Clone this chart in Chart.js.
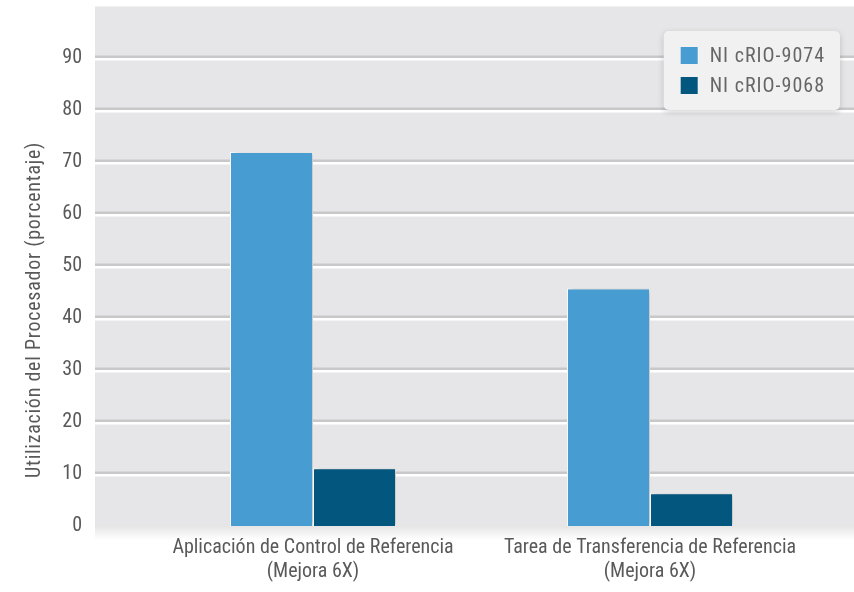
<!DOCTYPE html>
<html><head><meta charset="utf-8">
<script src="https://cdn.jsdelivr.net/npm/chart.js@4.4.0/dist/chart.umd.min.js"></script>
<style>html,body{margin:0;padding:0;background:#fff;overflow:hidden}</style>
</head><body>
<canvas id="c" width="854" height="592"></canvas>
<script>
const categories = [
  ["Aplicación de Control de Referencia", "(Mejora 6X)"],
  ["Tarea de Transferencia de Referencia", "(Mejora 6X)"]
];
const seriesNames = ["NI cRIO-9074", "NI cRIO-9068"];
const cRIO9074 = [72, 45.7];
const cRIO9068 = [11.1, 6.3];
const yTickValues = [0, 10, 20, 30, 40, 50, 60, 70, 80, 90, 100];
const yTitle = "Utilización del Procesador (porcentaje)";
const colors = ["#479dd1", "#03577f"];

const FONT = "'Roboto Condensed', 'DejaVu Sans Condensed', sans-serif";
const TEXT = "#595959";

const toPoints = arr => arr.map((v, i) => ({ x: i, y: v }));

const decor = {
  id: 'decor',
  beforeDraw(chart) {
    const { ctx, chartArea: a, scales } = chart;
    ctx.save();
    ctx.fillStyle = '#e6e6e8';
    ctx.fillRect(a.left, a.top, a.right - a.left, a.bottom - a.top);
    const g = ctx.createLinearGradient(0, a.bottom, 0, a.bottom + 14);
    g.addColorStop(0, 'rgba(0,0,0,0.10)');
    g.addColorStop(1, 'rgba(0,0,0,0)');
    ctx.fillStyle = g;
    ctx.fillRect(a.left, a.bottom, a.right - a.left, 14);
    const y = scales.y;
    y.ticks.forEach(t => {
      if (t.value <= y.min || t.value >= y.max) return;
      const p = Math.round(y.getPixelForValue(t.value));
      ctx.fillStyle = '#c8c8ca';
      ctx.fillRect(a.left, p - 2.5, a.right - a.left, 2.5);
      ctx.fillStyle = '#ffffff';
      ctx.fillRect(a.left, p, a.right - a.left, 2.5);
    });
    ctx.restore();
  },
  beforeDatasetsDraw(chart) {
    const ctx = chart.ctx;
    ctx.save();
    ctx.shadowColor = 'rgba(0,0,0,0.25)';
    ctx.shadowBlur = 6;
    ctx.shadowOffsetX = 3;
    ctx.shadowOffsetY = 0;
  },
  afterDatasetsDraw(chart) {
    chart.ctx.restore();
  },
  afterDraw(chart) {
    const { ctx, chartArea: a } = chart;
    ctx.save();
    ctx.font = `20px ${FONT}`;
    try { ctx.letterSpacing = '0.75px'; } catch (e) {}
    ctx.fillStyle = TEXT;
    ctx.translate(35, a.bottom - 48);
    ctx.rotate(-Math.PI / 2);
    ctx.textAlign = 'left';
    ctx.textBaseline = 'middle';
    ctx.fillText(yTitle, 0, 0);
    ctx.restore();

    ctx.save();
    ctx.font = `20px ${FONT}`;
    try { ctx.letterSpacing = '1px'; } catch (e) {}
    const ds = chart.data.datasets;
    const tw = Math.max(...ds.map(d => ctx.measureText(d.label).width));
    const padL = 17, sq = 17, gap = 12, padR = 15, rowH = 30, padT = 16;
    const w = padL + sq + gap + tw + padR;
    const h = padT * 2 + rowH * (ds.length - 1) + sq;
    const x0 = a.right - 14 - w, y0 = a.top + 24.5;
    ctx.save();
    ctx.shadowColor = 'rgba(0,0,0,0.18)';
    ctx.shadowBlur = 6;
    ctx.shadowOffsetY = 2;
    ctx.fillStyle = '#f1f1f2';
    ctx.beginPath();
    ctx.roundRect(x0, y0, w, h, 5);
    ctx.fill();
    ctx.restore();
    ds.forEach((d, i) => {
      const ry = y0 + padT + i * rowH;
      ctx.fillStyle = d.backgroundColor;
      ctx.fillRect(x0 + padL, ry, sq, sq);
      ctx.fillStyle = '#666666';
      ctx.textBaseline = 'middle';
      ctx.textAlign = 'left';
      ctx.fillText(d.label, x0 + padL + sq + gap, ry + sq / 2 + 1);
    });
    ctx.restore();
  }
};

new Chart(document.getElementById('c'), {
  type: 'bar',
  data: {
    datasets: [
      { label: seriesNames[0], data: toPoints(cRIO9074), backgroundColor: colors[0], borderColor: '#ffffff', borderWidth: 1 },
      { label: seriesNames[1], data: toPoints(cRIO9068), backgroundColor: colors[1], borderColor: '#ffffff', borderWidth: 1 }
    ]
  },
  options: {
    responsive: false,
    animation: false,
    layout: { padding: { top: 6.5, right: 0, left: 0, bottom: 0 } },
    datasets: { bar: { categoryPercentage: 0.4926, barPercentage: 1 } },
    plugins: { legend: { display: false }, tooltip: { enabled: false } },
    scales: {
      x: {
        type: 'linear',
        offset: false,
        min: -0.6469,
        max: 1.6053,
        grid: { display: false, drawTicks: false },
        border: { display: false },
        afterBuildTicks: s => { s.ticks = categories.map((c, i) => ({ value: i })); },
        afterFit: s => { s.height = 66; s.paddingLeft = 0; s.paddingRight = 0; },
        ticks: {
          autoSkip: false,
          maxRotation: 0,
          padding: 10,
          color: TEXT,
          font: { family: FONT, size: 20, lineHeight: 1.2 },
          callback: v => categories[v] || ''
        }
      },
      y: {
        min: 0,
        max: 100,
        grid: { display: false, drawTicks: false },
        border: { display: false },
        afterBuildTicks: s => { s.ticks = yTickValues.map(v => ({ value: v })); },
        afterFit: s => { s.width = 95; s.paddingTop = 0; s.paddingBottom = 0; },
        ticks: {
          padding: 13,
          color: TEXT,
          font: { family: FONT, size: 20 },
          callback: v => (v === 100 ? '' : String(v))
        }
      }
    }
  },
  plugins: [decor]
});
</script>
</body></html>
